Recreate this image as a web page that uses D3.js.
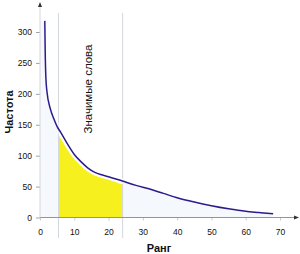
<!DOCTYPE html>
<html><head><meta charset="utf-8">
<script src="https://cdn.jsdelivr.net/npm/d3@7"></script>
<style>body{margin:0;background:#fff}svg{display:block;font-family:"Liberation Sans",Arial,sans-serif}</style>
</head><body><svg id="c" width="300" height="254"></svg>
<script>
const ranks = [1.4,1.5,1.7,2,3,4,5,6,8,10,12,14,16,18,20,24,28,32,36,40,45,50,55,60,64,68];
const freqs = [318,275,228,205,176,160,147,138,119,102,90,80,73,69,66,59,52,46,39,32,25,19,14,10,8,6];
const xTicks = [0,10,20,30,40,50,60,70];
const yTicks = [0,50,100,150,200,250,300];
const band = [5.4,24.1];
const labels = {y:"Частота", x:"Ранг", band:"Значимые слова"};

const svg = d3.select("#c");
const x = d3.scaleLinear().domain([0,70]).range([40,280]);
const y = d3.scaleLinear().domain([0,300]).range([217.5,32]);
const pts = ranks.map((r,i)=>({r, f:freqs[i]}));
const curve = d3.curveMonotoneX;

// light fill under curve
svg.append("path").datum(pts)
  .attr("d", d3.area().x(d=>x(d.r)).y0(y(0)).y1(d=>y(d.f)).curve(curve))
  .attr("fill","#f5f8fc");
svg.append("rect").attr("x",x(0)).attr("y",y(pts[0].f)).attr("width",x(pts[0].r)-x(0)).attr("height",y(0)-y(pts[0].f)).attr("fill","#f5f8fc");

// yellow band area
const clipId="bandclip";
svg.append("clipPath").attr("id",clipId).append("rect")
  .attr("x",x(band[0])).attr("width",x(band[1])-x(band[0])).attr("y",0).attr("height",y(0));
svg.append("path").datum(pts).attr("clip-path",`url(#${clipId})`)
  .attr("d", d3.area().x(d=>x(d.r)).y0(y(0)).y1(d=>y(d.f)).curve(curve))
  .attr("fill","#f5f01e");

// vertical lines
band.forEach(b=>{
  svg.append("line").attr("x1",x(b)).attr("x2",x(b)).attr("y1",13).attr("y2",238)
    .attr("stroke","#d3d7de").attr("stroke-width",1);
});

// white gap along curve
svg.append("path").datum(pts)
  .attr("d", d3.line().x(d=>x(d.r)).y(d=>y(d.f)).curve(curve))
  .attr("fill","none").attr("stroke","#fff").attr("stroke-width",6).attr("clip-path",`url(#${clipId})`);

// axes
const ax = svg.append("g").attr("transform",`translate(0,${y(0)})`)
  .call(d3.axisBottom(x).tickValues(xTicks).tickSize(3).tickPadding(8).tickSizeOuter(0));
ax.select(".domain").remove();
ax.selectAll("line").attr("stroke","#c8ccd4");
ax.selectAll("text").attr("font-size",8.5).attr("fill","#111").attr("font-family","Liberation Sans, Arial, sans-serif");

const ay = svg.append("g").attr("transform",`translate(${x(0)},0)`)
  .call(d3.axisLeft(y).tickValues(yTicks).tickSize(4).tickPadding(4).tickSizeOuter(0));
ay.select(".domain").remove();
ay.selectAll("line").attr("stroke","#9aa0aa");
ay.selectAll("text").attr("font-size",8.5).attr("fill","#111").attr("font-family","Liberation Sans, Arial, sans-serif").attr("dy","0.35em");

// axis lines with arrows
svg.append("line").attr("x1",x(0)).attr("x2",296).attr("y1",y(0)).attr("y2",y(0)).attr("stroke","#8f959e").attr("stroke-width",1);
svg.append("path").attr("d",`M299,${y(0)} L294,${y(0)-2} L294,${y(0)+2}Z`).attr("fill","#333");
svg.append("line").attr("x1",x(0)).attr("x2",x(0)).attr("y1",y(0)).attr("y2",6).attr("stroke","#d3d7de").attr("stroke-width",1);
svg.append("path").attr("d",`M${x(0)},2 L${x(0)-2},7 L${x(0)+2},7Z`).attr("fill","#333");

// curve
svg.append("path").datum(pts)
  .attr("d", d3.line().x(d=>x(d.r)).y(d=>y(d.f)).curve(curve))
  .attr("fill","none").attr("stroke","#2b1b8c").attr("stroke-width",1.5);

// labels
svg.append("text").attr("transform","translate(13,112) rotate(-90)").attr("text-anchor","middle")
  .attr("font-size",11).attr("font-weight","bold").attr("fill","#111").text(labels.y);
svg.append("text").attr("transform","translate(159,252)").attr("text-anchor","middle")
  .attr("font-size",11).attr("font-weight","bold").attr("fill","#111").text(labels.x);
svg.append("text").attr("transform","translate(92,89) rotate(-90)").attr("text-anchor","middle")
  .attr("font-size",11.5).attr("fill","#111").text(labels.band);
</script></body></html>
